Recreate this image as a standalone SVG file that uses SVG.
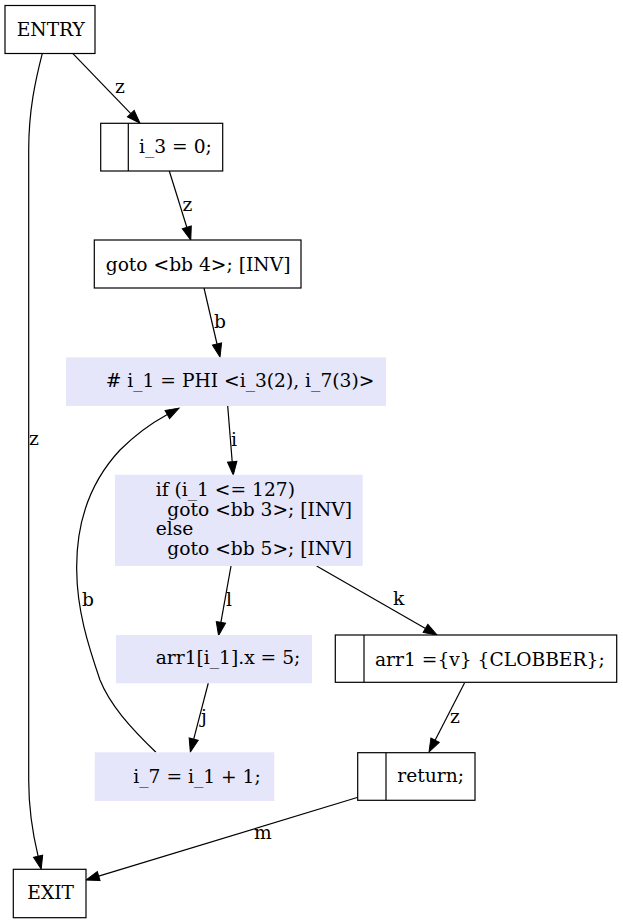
<svg xmlns="http://www.w3.org/2000/svg" width="623" height="924" viewBox="0 0 623 924">
<defs>
<marker id="ah" markerUnits="userSpaceOnUse" markerWidth="16" markerHeight="12" refX="0" refY="0" viewBox="0 -6 16 12" orient="auto" overflow="visible">
<path d="M0,-4.7 L13.3,0 L0,4.7 z" fill="#000" stroke="#000" stroke-width="1"/>
</marker>
</defs>
<style>
text{font-family:"DejaVu Serif","Liberation Serif",serif;font-size:18.67px;fill:#000}
.box{fill:#fff;stroke:#000;stroke-width:1.2}
.bb{fill:#e6e6fa;stroke:none}
.div{stroke:#000;stroke-width:1.2}
.e{fill:none;stroke:#000;stroke-width:1.2;marker-end:url(#ah)}
</style>
<rect width="623" height="924" fill="#fff"/>
<g id="edges">
<path class="e" d="M72.7,53.3 L130.8,113.7"/>
<text x="115" y="93">z</text>
<path class="e" d="M169.3,171 L186.8,227.3"/>
<text x="182.5" y="211">z</text>
<path class="e" d="M204,288 L217,344"/>
<text x="214" y="328">b</text>
<path class="e" d="M227.7,406 L232.2,461.7"/>
<text x="231" y="446">i</text>
<path class="e" d="M231,566 L220.9,622.4"/>
<text x="226" y="606">l</text>
<path class="e" d="M316.6,566 L425.5,628.4"/>
<text x="393" y="605">k</text>
<path class="e" d="M208.3,683 L193.7,739.1"/>
<text x="201" y="723">j</text>
<path class="e" d="M464.5,683 L435.1,740.2"/>
<text x="450" y="723">z</text>
<path class="e" d="M358,797.3 L98.7,876.1"/>
<text x="254" y="839">m</text>
<path class="e" d="M42.3,53.3 C35.5,80 28.7,110 28.7,150 L28.7,780 C28.7,810 33,835 38.1,856.2"/>
<text x="29" y="445">z</text>
<path class="e" d="M155.9,752.3 C130,727 110,705 100,680 C88,645 77,610 76.7,570 C76,520 92,480 120,450 C135,435 150,424 167.3,414.5"/>
<text x="82" y="606">b</text>
</g>
<g id="entry">
<rect class="box" x="5" y="5.5" width="90" height="48"/>
<text x="16.7" y="35.7">ENTRY</text>
</g>
<g id="bb2a">
<rect class="box" x="100.7" y="123.3" width="122" height="47.7"/>
<line class="div" x1="128.3" y1="123.3" x2="128.3" y2="171"/>
<text x="139" y="152.7">i_3 = 0;</text>
</g>
<g id="bb2b">
<rect class="box" x="94.3" y="240" width="206.7" height="48"/>
<text x="105.7" y="270.7">goto &lt;bb 4&gt;; [INV]</text>
</g>
<g id="bb4a">
<rect class="bb" x="66" y="357.3" width="320" height="48.7"/>
<text x="105.7" y="387.3"># i_1 = PHI &lt;i_3(2), i_7(3)&gt;</text>
</g>
<g id="bb4b">
<rect class="bb" x="115" y="474.7" width="247.7" height="91.3"/>
<text x="155.7" y="496">if (i_1 &lt;= 127)</text>
<text x="167.3" y="516">goto &lt;bb 3&gt;; [INV]</text>
<text x="155.7" y="535">else</text>
<text x="167.3" y="555">goto &lt;bb 5&gt;; [INV]</text>
</g>
<g id="bb3a">
<rect class="bb" x="116" y="635" width="196" height="48.3"/>
<text x="155.7" y="664">arr1[i_1].x = 5;</text>
</g>
<g id="bb3b">
<rect class="bb" x="94.7" y="752.3" width="179.6" height="48.7"/>
<text x="133.3" y="782.7">i_7 = i_1 + 1;</text>
</g>
<g id="bb5a">
<rect class="box" x="335.3" y="635" width="281.4" height="47.3"/>
<line class="div" x1="364" y1="635" x2="364" y2="682.3"/>
<text x="375" y="666">arr1 ={v} {CLOBBER};</text>
</g>
<g id="bb5b">
<rect class="box" x="357.7" y="752.7" width="117.3" height="47.6"/>
<line class="div" x1="386" y1="752.7" x2="386" y2="800.3"/>
<text x="397.3" y="782">return;</text>
</g>
<g id="exit">
<rect class="box" x="13.3" y="869.3" width="72.7" height="48.4"/>
<text x="27.3" y="899.3">EXIT</text>
</g>
</svg>
